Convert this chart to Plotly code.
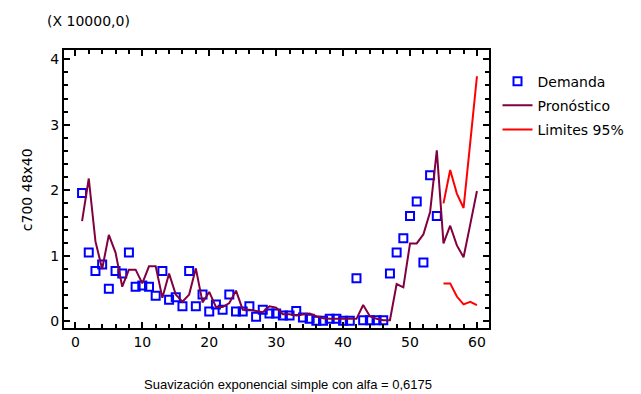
import plotly.graph_objects as go

# Observed demand (units of 10000), periods 1..54
periodos_demanda = list(range(1, 55))
demanda = [
    1.96, 1.05, 0.77, 0.87, 0.50, 0.77, 0.73, 1.05, 0.53, 0.55,
    0.53, 0.39, 0.77, 0.33, 0.37, 0.23, 0.77, 0.23, 0.41, 0.15,
    0.26, 0.18, 0.41, 0.15, 0.15, 0.23, 0.07, 0.18, 0.12, 0.12,
    0.09, 0.09, 0.16, 0.06, 0.04, 0.01, 0.01, 0.04, 0.04, 0.01,
    0.01, 0.66, 0.02, 0.02, 0.02, 0.02, 0.73, 1.05, 1.27, 1.61,
    1.83, 0.90, 2.23, 1.61,
]

# Exponential smoothing forecast, periods 1..60
periodos_pronostico = list(range(1, 61))
pronostico = [
    1.53, 2.18, 1.22, 0.80, 1.32, 1.05, 0.53, 0.79, 0.79, 0.58,
    0.84, 0.84, 0.36, 0.73, 0.41, 0.30, 0.41, 0.81, 0.29, 0.45,
    0.22, 0.22, 0.28, 0.47, 0.18, 0.18, 0.16, 0.14, 0.23, 0.21,
    0.11, 0.11, 0.09, 0.10, 0.12, 0.08, 0.05, 0.04, 0.04, 0.04,
    0.04, 0.04, 0.25, 0.08, 0.04, 0.02, 0.02, 0.57, 0.52, 1.19,
    1.19, 1.33, 1.67, 2.61, 1.19, 1.46, 1.16, 0.98, 1.48, 1.99,
]

# 95% limits for the forecast horizon, periods 55..60
periodos_limites = list(range(55, 61))
limite_superior = [1.80, 2.31, 1.95, 1.73, 2.73, 3.74]
limite_inferior = [0.58, 0.58, 0.38, 0.26, 0.30, 0.25]

FONT = "DejaVu Sans"

fig = go.Figure()

fig.add_trace(go.Scatter(
    x=periodos_demanda, y=demanda, mode="markers", name="Demanda",
    legendgroup="dem",
    marker=dict(symbol="square-open", size=8, color="#0000FF",
                line=dict(width=2, color="#0000FF")),
))
fig.add_trace(go.Scatter(
    x=periodos_pronostico, y=pronostico, mode="lines", name="Pronóstico",
    legendgroup="pron", line=dict(color="#800040", width=2),
))
fig.add_trace(go.Scatter(
    x=periodos_limites, y=limite_superior, mode="lines", name="Limites 95%",
    legendgroup="lim", line=dict(color="#FF0000", width=2),
))
fig.add_trace(go.Scatter(
    x=periodos_limites, y=limite_inferior, mode="lines", name="Limites 95%",
    legendgroup="lim", showlegend=False, line=dict(color="#FF0000", width=2),
))

axis_common = dict(
    showline=True, linecolor="black", linewidth=2, mirror="ticks",
    ticks="inside", ticklen=6, tickwidth=2, tickcolor="black",
    showgrid=False, zeroline=False,
    tickfont=dict(family=FONT, size=14, color="black"),
)

fig.update_xaxes(
    range=[-1.7, 61.8], tickvals=[0, 10, 20, 30, 40, 50, 60],
    minor=dict(dtick=2, tick0=0, ticks="inside", ticklen=4, tickwidth=1.5,
               tickcolor="black"),
    **axis_common,
)
fig.update_yaxes(
    range=[-0.1, 4.14], tickvals=[0, 1, 2, 3, 4],
    minor=dict(dtick=0.2, tick0=0, ticks="inside", ticklen=4, tickwidth=1.5,
               tickcolor="black"),
    **axis_common,
)

fig.update_layout(
    width=641, height=394,
    margin=dict(l=64, r=152, t=50, b=66),
    paper_bgcolor="white", plot_bgcolor="white",
    font=dict(family=FONT, size=14, color="black"),
    showlegend=True,
    legend=dict(x=1.02, y=0.944, xanchor="left", yanchor="top",
                tracegroupgap=3, bgcolor="rgba(0,0,0,0)",
                font=dict(family=FONT, size=14)),
    annotations=[
        dict(text="(X 10000,0)", xref="paper", yref="paper",
             x=-0.045, y=1.104, xanchor="left", yanchor="middle",
             showarrow=False, font=dict(family=FONT, size=14)),
        dict(text="c700 48x40", xref="paper", yref="paper",
             x=-0.087, y=0.496, xanchor="center", yanchor="middle",
             textangle=-90, showarrow=False, font=dict(family=FONT, size=14)),
        dict(text="Suavización exponencial simple con alfa = 0,6175",
             xref="paper", yref="paper", x=0.527, y=-0.205,
             xanchor="center", yanchor="middle", showarrow=False,
             font=dict(family="Liberation Sans", size=13)),
    ],
)

fig.write_html("out.html")
